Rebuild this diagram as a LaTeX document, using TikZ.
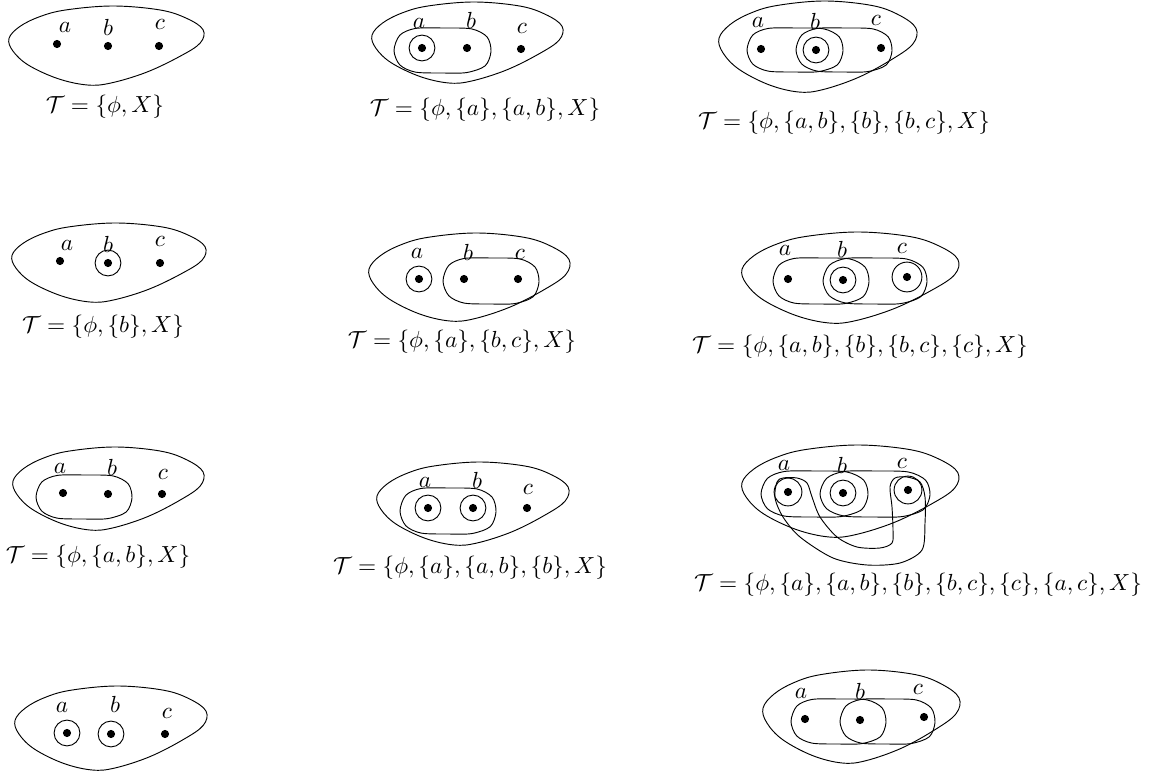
\documentclass[tikz,border=0pt]{standalone}
\usepackage{amsmath,amssymb}
\usepackage{tikz}
\usetikzlibrary{positioning}

\newcommand{\spaceset}[4]{%
  \draw[shift={(#1,#2)}, xscale=#3, yscale=#4] plot[smooth cycle, tension=0.6] coordinates
    {(0,0.41) (0.055,0.26) (0.157,0.135) (0.29,0.05) (0.53,0) (0.77,0.05) (0.906,0.156)
     (0.99,0.3) (0.975,0.47) (0.87,0.64) (0.7,0.84) (0.52,0.975) (0.4,1) (0.25,0.92)
     (0.1,0.75) (0.02,0.57)};}
\newcommand{\pairset}[4]{%
  \draw[shift={(#1,#2)}, xscale=#3, yscale=#4] plot[smooth cycle] coordinates
    {(0,0.5) (0.06,0.16) (0.22,0.01) (0.5,0) (0.8,0.02) (0.96,0.2) (1,0.52)
     (0.94,0.84) (0.75,0.99) (0.5,1) (0.22,0.98) (0.06,0.82)};}

\begin{document}
\begin{tikzpicture}[x=0.0151cm, y=-0.0151cm,
      dot/.style={circle, fill, inner sep=0pt, minimum size=3.5pt},
      ring/.style={circle, draw, inner sep=0pt, minimum size=0.39cm},
      pt/.style={inner sep=0pt},
      formula/.style={inner sep=0pt}
    ]
      \useasboundingbox (0,0) rectangle (1153,773);

      \spaceset{9}{6}{196}{79}
      \node[dot] (p1a) at (57,44) {};
      \node[dot] (p1b) at (108,46) {};
      \node[dot] (p1c) at (159,46) {};
      \node[pt] (p1la) at (65,27) {$a$};
      \node[pt] (p1lb) at (108,27) {$b$};
      \node[pt] (p1lc) at (160,24) {$c$};
      \node[formula] (t1) at (105,107) {$\mathcal{T}=\{\phi,X\}$};

      \spaceset{372}{2}{192}{81}
      \pairset{394}{28}{97}{45}
      \node[dot] (p2a) at (422,48) {};
      \node[dot] (p2b) at (467,48) {};
      \node[dot] (p2c) at (521,49) {};
      \node[ring] (p2ra) at (p2a) {};
      \node[pt] (p2la) at (419,23) {$a$};
      \node[pt] (p2lb) at (471,20) {$b$};
      \node[pt] (p2lc) at (522,28) {$c$};
      \node[formula] (t2) at (485,110) {$\mathcal{T}=\{\phi,\{a\},\{a,b\},X\}$};

      \spaceset{719}{1}{199}{91}
      \pairset{747}{28}{96}{44}
      \pairset{796}{28}{96}{44}
      \node[dot] (p3a) at (761,49) {};
      \node[dot] (p3b) at (816,50) {};
      \node[dot] (p3c) at (881,48) {};
      \node[ring] (p3rb) at (p3b) {};
      \node[pt] (p3la) at (758,22) {$a$};
      \node[pt] (p3lb) at (815,21) {$b$};
      \node[pt] (p3lc) at (876,20) {$c$};
      \node[formula] (t3) at (844,123) {$\mathcal{T}=\{\phi,\{a,b\},\{b\},\{b,c\},X\}$};

      \spaceset{12}{223}{195}{79}
      \node[dot] (p4a) at (60,261) {};
      \node[dot] (p4b) at (108,263) {};
      \node[dot] (p4c) at (160,263) {};
      \node[ring] (p4rb) at (p4b) {};
      \node[pt] (p4la) at (67,245) {$a$};
      \node[pt] (p4lb) at (108,244) {$b$};
      \node[pt] (p4lc) at (160,241) {$c$};
      \node[formula] (t4) at (103,327) {$\mathcal{T}=\{\phi,\{b\},X\}$};

      \spaceset{369}{233}{202}{88}
      \pairset{443}{258}{96}{46}
      \node[dot] (p5a) at (419,279) {};
      \node[dot] (p5b) at (464,279) {};
      \node[dot] (p5c) at (518,279) {};
      \node[ring] (p5ra) at (p5a) {};
      \node[pt] (p5la) at (417,253) {$a$};
      \node[pt] (p5lb) at (468,252) {$b$};
      \node[pt] (p5lc) at (520,254) {$c$};
      \node[formula] (t5) at (462,342) {$\mathcal{T}=\{\phi,\{a\},\{b,c\},X\}$};

      \spaceset{742}{232}{218}{91}
      \pairset{773}{258}{96}{46}
      \pairset{823}{258}{104}{46}
      \node[dot] (p6a) at (788,279) {};
      \node[dot] (p6b) at (843,280) {};
      \node[dot] (p6c) at (907,277) {};
      \node[ring] (p6rb) at (p6b) {};
      \node[ring, minimum size=0.45cm] (p6rc) at (p6c) {};
      \node[pt] (p6la) at (785,250) {$a$};
      \node[pt] (p6lb) at (842,249) {$b$};
      \node[pt] (p6lc) at (902,248) {$c$};
      \node[formula] (t6) at (860,347) {$\mathcal{T}=\{\phi,\{a,b\},\{b\},\{b,c\},\{c\},X\}$};

      \spaceset{13}{447}{192}{83}
      \pairset{36}{475}{96}{44}
      \node[dot] (p7a) at (63,493) {};
      \node[dot] (p7b) at (108,494) {};
      \node[dot] (p7c) at (162,494) {};
      \node[pt] (p7la) at (60,468) {$a$};
      \node[pt] (p7lb) at (112,467) {$b$};
      \node[pt] (p7lc) at (163,474) {$c$};
      \node[formula] (t7) at (98,557) {$\mathcal{T}=\{\phi,\{a,b\},X\}$};

      \spaceset{377}{462}{193}{83}
      \pairset{400}{488}{96}{46}
      \node[dot] (p8a) at (428,508) {};
      \node[dot] (p8b) at (473,508) {};
      \node[dot] (p8c) at (527,508) {};
      \node[ring] (p8ra) at (p8a) {};
      \node[ring] (p8rb) at (p8b) {};
      \node[pt] (p8la) at (425,482) {$a$};
      \node[pt] (p8lb) at (477,480) {$b$};
      \node[pt] (p8lc) at (528,489) {$c$};
      \node[formula] (t8) at (470,568) {$\mathcal{T}=\{\phi,\{a\},\{a,b\},\{b\},X\}$};

      \spaceset{742}{445}{218}{92}
      \pairset{761}{471}{107}{46}
      \pairset{820}{471}{110}{46}
      \draw plot[smooth cycle] coordinates {(777,482) (775,498) (783,517) (800,537)
        (833,558) (867,565) (900,563) (922,550) (925,523) (925,497) (920,482) (907,477)
        (895,478) (890,487) (892,507) (893,530) (892,543) (880,548) (857,547) (837,537)
        (820,517) (812,497) (807,483) (797,478) (783,478)};
      \node[dot] (p9a) at (788,492) {};
      \node[dot] (p9b) at (843,493) {};
      \node[dot] (p9c) at (908,490) {};
      \node[ring, minimum size=0.42cm] (p9ra) at (p9a) {};
      \node[ring] (p9rb) at (p9b) {};
      \node[ring, minimum size=0.42cm] (p9rc) at (p9c) {};
      \node[pt] (p9la) at (784,465) {$a$};
      \node[pt] (p9lb) at (842,465) {$b$};
      \node[pt] (p9lc) at (902,463) {$c$};
      \node[formula] (t9) at (918,585) {$\mathcal{T}=\{\phi,\{a\},\{a,b\},\{b\},\{b,c\},\{c\},\{a,c\},X\}$};

      \spaceset{15}{686}{193}{84}
      \node[dot] (p10a) at (67,733) {};
      \node[dot] (p10b) at (111,734) {};
      \node[dot] (p10c) at (165,734) {};
      \node[ring] (p10ra) at (p10a) {};
      \node[ring] (p10rb) at (p10b) {};
      \node[pt] (p10la) at (62,707) {$a$};
      \node[pt] (p10lb) at (115,704) {$b$};
      \node[pt] (p10lc) at (167,713) {$c$};

      \spaceset{763}{670}{198}{93}
      \pairset{791}{699}{95}{45}
      \pairset{840}{699}{95}{45}
      \node[dot] (p11a) at (805,719) {};
      \node[dot] (p11b) at (860,720) {};
      \node[dot] (p11c) at (924,717) {};
      \node[pt] (p11la) at (801,693) {$a$};
      \node[pt] (p11lb) at (860,691) {$b$};
      \node[pt] (p11lc) at (918,689) {$c$};
    \end{tikzpicture}
\end{document}
